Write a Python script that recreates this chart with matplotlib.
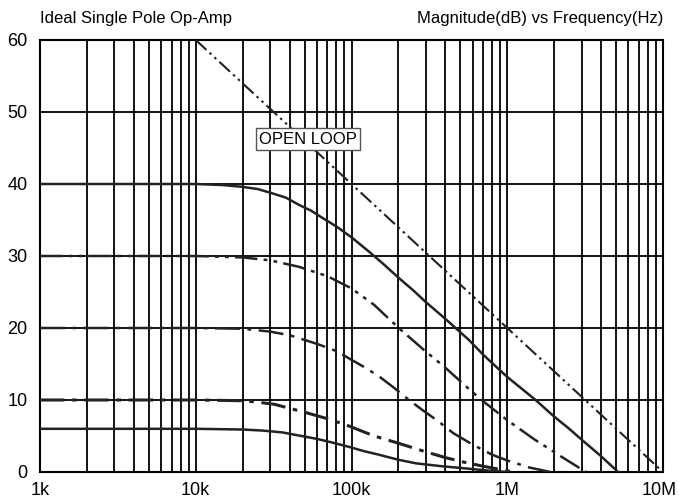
import matplotlib
matplotlib.use("Agg")
import matplotlib.pyplot as plt
from matplotlib.transforms import ScaledTranslation

plt.rcParams["font.family"] = ["Liberation Sans", "DejaVu Sans"]

# values (frequency in Hz, magnitude in dB)
open_f = [10e3, 100e3, 1e6, 10e6]
open_db = [60, 40, 20, 0]

g40_f = [1e3, 10e3, 15e3, 20e3, 25e3, 30e3, 38e3, 46e3, 55e3, 65e3, 80e3, 100e3, 133e3, 160e3, 200e3,
         250e3, 300e3, 380e3, 466e3, 570e3, 700e3, 850e3, 1e6, 1.25e6, 1.52e6, 2e6, 2.5e6, 3e6, 4e6, 5.15e6]
g40_db = [40, 40, 39.85, 39.6, 39.3, 38.8, 38.1, 37.1, 36.3, 35.3, 34.1, 32.6, 30.4, 28.9, 27,
          25.2, 23.6, 21.7, 20, 18.3, 16.3, 14.6, 13.2, 11.5, 10, 7.7, 6, 4.5, 2.2, 0]

g30_f = [1e3, 10e3, 20e3, 30e3, 46e3, 70e3, 100e3, 140e3, 201e3, 290e3, 400e3, 530e3, 684e3,
         1e6, 1.5e6, 2.2e6, 3.2e6]
g30_db = [30, 30, 29.8, 29.4, 28.5, 27.2, 25.5, 23.2, 20, 17, 14.5, 12.1, 10,
          7.2, 4.5, 2.2, 0]

g20_f = [1e3, 10e3, 20e3, 30e3, 40e3, 60e3, 80e3, 96e3, 120e3, 150e3, 190e3, 234e3, 290e3, 363e3,
         450e3, 600e3, 800e3, 1e6, 1.4e6, 1.9e6]
g20_db = [20, 20, 19.9, 19.5, 19, 17.8, 16.8, 15.8, 14.6, 13.3, 11.6, 10, 8.5, 7,
          5.4, 3.8, 2.4, 1.6, 0.6, 0]

g10_f = [1e3, 10e3, 20e3, 25e3, 32e3, 50e3, 70e3, 96e3, 140e3, 200e3, 280e3, 400e3, 520e3, 700e3, 1.1e6]
g10_db = [10, 10, 9.9, 9.7, 9.4, 8.3, 7.4, 6.4, 5, 4, 3, 2, 1.4, 0.8, 0]

g6_f = [1e3, 10e3, 20e3, 27e3, 36e3, 45e3, 60e3, 75e3, 96e3, 120e3, 150e3, 200e3, 260e3, 380e3,
        540e3, 750e3, 1e6]
g6_db = [6, 6, 5.9, 5.75, 5.5, 5.1, 4.6, 4.1, 3.5, 2.9, 2.4, 1.7, 1.2, 0.8, 0.5, 0.2, 0]

x_ticks = [1e3, 1e4, 1e5, 1e6, 1e7]
x_labels = ["1k", "10k", "100k", "1M", "10M"]
y_ticks = [0, 10, 20, 30, 40, 50, 60]

fig = plt.figure(figsize=(6.79, 5.04), dpi=100)
ax = fig.add_axes([40 / 679, 32 / 504, 623 / 679, 432 / 504])
ax.set_xscale("log")
ax.set_xlim(1e3, 1e7)
ax.set_ylim(0, 60)

# grid: every 1..9 per decade, and every 10 dB
for dec in [1e3, 1e4, 1e5, 1e6]:
    for m in range(1, 10):
        ax.axvline(dec * m, color="black", lw=1.3, zorder=1)
for y in y_ticks:
    ax.axhline(y, color="black", lw=1.3, zorder=1)

ink = "#222222"
ax.plot(open_f, open_db, color=ink, lw=1.5, dashes=(7, 2, 1.2, 2, 1.2, 2), zorder=3)
ax.plot(g40_f, g40_db, color=ink, lw=1.8, zorder=3)
ax.plot(g30_f, g30_db, color=ink, lw=1.8, dashes=(9, 2.5, 1.5, 2.5, 1.5, 2.5), zorder=3)
ax.plot(g20_f, g20_db, color=ink, lw=1.8, dashes=(10, 3, 1.5, 3), zorder=3)
ax.plot(g10_f, g10_db, color=ink, lw=2.2, dashes=(8, 2.5, 1.5, 2.5), zorder=3)
ax.plot(g6_f, g6_db, color=ink, lw=1.8, zorder=3)

ax.text(52.7e3, 46.25, "OPEN LOOP", ha="center", va="center", fontsize=12, zorder=4,
        bbox=dict(boxstyle="square,pad=0.2", facecolor="white", edgecolor="#555555", lw=1))

ax.set_xticks(x_ticks)
ax.set_xticklabels(x_labels)
ax.set_yticks(y_ticks)
ax.minorticks_off()
ax.tick_params(axis="x", length=0, labelsize=13, pad=7)
ax.tick_params(axis="y", length=0, labelsize=13, pad=9)
for s in ax.spines.values():
    s.set_linewidth(1.5)

# nudge the last x label so it stays inside the image
last = ax.get_xticklabels()[-1]
last.set_transform(last.get_transform() + ScaledTranslation(-4 / 100, 0, fig.dpi_scale_trans))

fig.text(40 / 679, 1 - 18 / 504, "Ideal Single Pole Op-Amp", ha="left", va="center", fontsize=12)
fig.text(663 / 679, 1 - 18 / 504, "Magnitude(dB) vs Frequency(Hz)", ha="right", va="center", fontsize=12)

fig.savefig("out.png", dpi=100)
